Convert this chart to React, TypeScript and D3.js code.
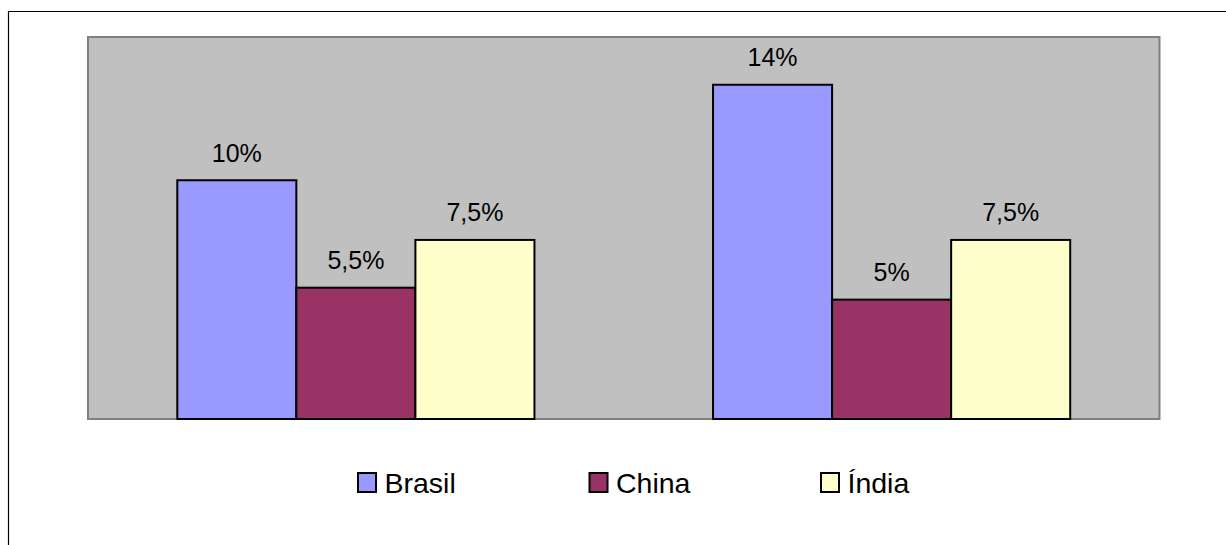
import * as d3 from "d3";

const categories = ["Período 1", "Período 2"];
const series = ["Brasil", "China", "Índia"];
const seriesColors = ["#9999FF", "#993366", "#FFFFCC"];
const brasilValues = [0.1, 0.14];
const chinaValues = [0.055, 0.05];
const indiaValues = [0.075, 0.075];
const yMax = 0.16;

const W = 1226;
const H = 545;
const plot = { left: 88, right: 1159.5, top: 37, bottom: 419 };
const font = "'Liberation Sans', Arial, sans-serif";

const ptLocale = d3.formatLocale({ decimal: ",", thousands: ".", grouping: [3], currency: ["R$", ""] });
const fmt = ptLocale.format(".1~%");

export default function App() {
  const valuesBySeries = [brasilValues, chinaValues, indiaValues];
  const rows = categories.flatMap((c, ci) =>
    series.map((s, si) => ({ cat: c, series: s, value: valuesBySeries[si][ci], color: seriesColors[si] }))
  );

  const x0 = d3.scaleBand<string>().domain(categories).range([plot.left, plot.right]).padding(0);
  const x1 = d3
    .scaleBand<string>()
    .domain(series)
    .range([0, x0.bandwidth()])
    .paddingInner(0)
    .paddingOuter(0.75);
  const y = d3.scaleLinear().domain([0, yMax]).range([plot.bottom, plot.top]);

  const legendX = d3.scalePoint<string>().domain(series).range([358, 821]);

  return (
    <svg
      width={W}
      height={H}
      style={{ position: "absolute", left: 0, top: 0, display: "block", background: "#fff" }}
    >
      {/* chart frame, runs off the page to the right and bottom */}
      <path d={`M8.5,${H + 5} V11.5 H${W + 5}`} fill="none" stroke="#000" strokeWidth={1.2} />

      <rect
        x={plot.left}
        y={plot.top}
        width={plot.right - plot.left}
        height={plot.bottom - plot.top}
        fill="#C0C0C0"
        stroke="#808080"
        strokeWidth={2}
      />

      {rows.map((d) => {
        const bx = (x0(d.cat) ?? 0) + (x1(d.series) ?? 0);
        const by = y(d.value);
        return (
          <g key={d.cat + d.series}>
            <rect
              x={bx}
              y={by}
              width={x1.bandwidth()}
              height={plot.bottom - by}
              fill={d.color}
              stroke="#000"
              strokeWidth={2}
            />
            <text
              x={bx + x1.bandwidth() / 2}
              y={by - 18.5}
              textAnchor="middle"
              fontFamily={font}
              fontSize={25}
              fill="#000"
            >
              {fmt(d.value)}
            </text>
          </g>
        );
      })}

      {series.map((s, i) => {
        const lx = legendX(s) ?? 0;
        return (
          <g key={s}>
            <rect x={lx} y={473} width={18} height={19} fill={seriesColors[i]} stroke="#000" strokeWidth={2} />
            <text x={lx + 26.5} y={492.5} fontFamily={font} fontSize={28.5} fill="#000">
              {s}
            </text>
          </g>
        );
      })}
    </svg>
  );
}
